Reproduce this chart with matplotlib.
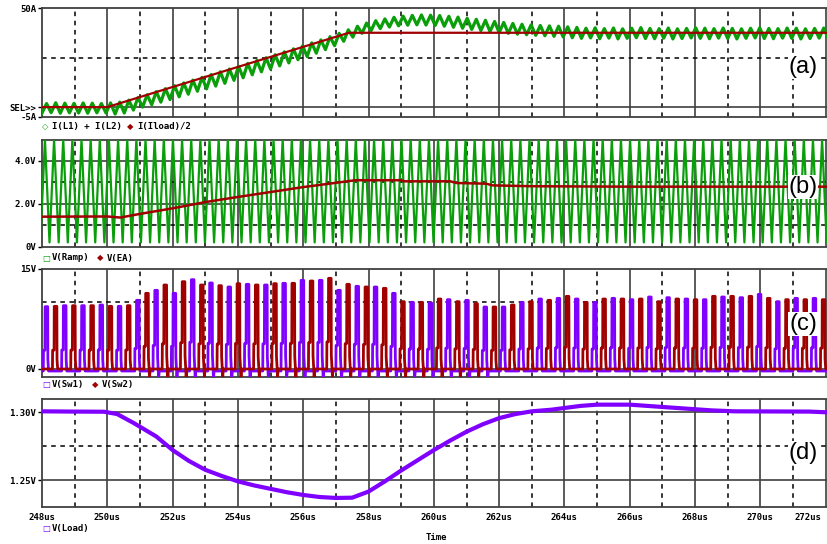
import numpy as np
import matplotlib.pyplot as plt

# ---- time axis (us) ----
t_min, t_max = 248.0, 272.04
x_ticks = list(range(248, 273, 2))
x_labels = ['%dus' % t for t in x_ticks]

# ---- (a) currents ----
# I(Iload)/2 breakpoints
iload_t = [248.0, 250.0, 257.4, 272.1]
iload_v = [0.0, 0.0, 37.5, 37.5]
# I(L1)+I(L2): valley / peak of every ripple cycle (one cycle = 0.28us)
ripple_T = 0.28
il_peak = [1.8, 2.2, 2.0, 1.9, 2.1, 2.0, 1.8, 2.1,
           2.5, 3.5, 4.8, 6.2, 7.8, 9.3, 10.8, 12.2, 13.6, 15.0, 16.4, 17.8,
           19.2, 20.6, 22.0, 23.5, 24.9, 26.4, 27.9, 29.4, 30.9, 32.4, 33.9,
           35.5, 37.2, 39.0, 40.8, 42.4,
           43.6, 44.5, 45.3, 45.9, 46.3, 46.5, 46.4, 46.2, 45.8, 45.4, 44.8,
           44.3, 43.8, 43.2, 42.7, 42.2, 41.8, 41.5, 41.2, 41.0, 40.8, 40.5, 40.2,
           39.8, 40.0, 39.6, 39.9, 39.5, 39.8, 40.1, 39.7, 39.6, 39.9, 39.5,
           39.7, 40.0, 39.8, 39.6, 39.9, 39.7, 39.5, 39.8, 40.0, 39.7, 39.6,
           39.9, 39.8, 39.5, 39.7, 39.9, 39.6]
il_valley = [-3.0, -2.8, -3.1, -2.9, -3.0, -3.1, -2.9, -3.0,
             -3.5, -3.0, -1.5, 0.0, 1.2, 2.5, 3.8, 5.2, 6.5, 8.0, 9.2, 10.6,
             12.0, 13.5, 14.8, 16.3, 17.8, 19.2, 20.8, 22.3, 23.9, 25.5, 27.2,
             29.0, 31.0, 33.2, 35.3, 37.2,
             38.6, 39.6, 40.4, 41.0, 41.3, 41.5, 41.4, 41.2, 40.8, 40.3, 39.8,
             39.2, 38.6, 38.1, 37.6, 37.2, 36.8, 36.5, 36.2, 36.0, 35.7, 35.4, 35.0,
             34.7, 34.9, 34.5, 34.8, 34.4, 34.7, 35.0, 34.6, 34.5, 34.8, 34.4,
             34.6, 34.9, 34.7, 34.5, 34.8, 34.6, 34.4, 34.7, 34.9, 34.6, 34.5,
             34.8, 34.7, 34.4, 34.6, 34.8, 34.5]

# ---- (b) ramp and error amplifier ----
ramp_levels = [0.2, 5.0]   # bottom / top of V(Ramp)
ea_t = [248.0, 250.0, 250.4, 251.0, 252.0, 253.0, 254.0, 255.0, 256.0, 257.0,
        257.6, 259.0, 259.1, 260.5, 260.7, 261.6, 261.8, 263.0, 266.0, 272.1]
ea_v = [1.40, 1.41, 1.36, 1.53, 1.79, 2.08, 2.32, 2.55, 2.78, 2.98,
        3.10, 3.10, 3.05, 3.05, 2.97, 2.94, 2.86, 2.82, 2.80, 2.80]

# ---- (c) switch nodes: peak of each pulse (period 0.56us) ----
sw_T = 0.56
sw1_first, sw2_first = 248.14, 248.42
sw1_peak = [9.35, 9.5, 9.5, 9.6, 9.4, 10.3, 11.8, 11.35, 13.4, 12.9, 12.3,
            12.7, 12.6, 12.85, 13.3, 13.3, 11.8, 12.4, 12.3, 11.35, 10.0, 9.9,
            10.4, 10.3, 9.3, 9.3, 10.0, 10.5, 10.6, 10.5, 10.0, 10.6, 10.4,
            10.8, 10.7, 10.5, 10.4, 10.8, 10.7, 11.2, 10.1, 10.6, 10.6]
sw2_peak = [9.4, 9.5, 9.5, 9.4, 9.5, 11.35, 12.6, 13.1, 12.6, 12.5, 12.8,
            12.6, 12.8, 12.85, 13.2, 13.6, 12.7, 12.3, 12.1, 10.1, 10.0, 10.5,
            10.1, 9.8, 9.3, 9.6, 10.1, 10.3, 10.9, 10.0, 10.5, 10.5, 10.5,
            10.1, 10.5, 10.4, 10.9, 10.9, 10.9, 10.6, 10.4, 10.4, 10.4]
dip_window = [251.2, 261.8]   # pulses followed by a negative (diode) dip

# ---- (d) output voltage ----
vout_t = [248.0, 249.0, 249.9, 250.3, 250.8, 251.5, 252.0, 252.5, 253.0, 253.5,
          254.0, 254.5, 255.0, 255.5, 256.0, 256.5, 257.0, 257.5, 258.0, 258.5,
          259.0, 259.5, 260.0, 260.5, 261.0, 261.5, 262.0, 262.5, 263.0, 263.6,
          264.5, 265.0, 266.0, 267.0, 268.5, 269.2, 271.5, 272.1]
vout_v = [1.3005, 1.3003, 1.3002, 1.2985, 1.2920, 1.2820, 1.2720, 1.2640, 1.2575, 1.2530,
          1.2490, 1.2460, 1.2435, 1.2410, 1.2390, 1.2375, 1.2368, 1.2370, 1.2415, 1.2490,
          1.2570, 1.2645, 1.2720, 1.2790, 1.2855, 1.2910, 1.2955, 1.2985, 1.3005, 1.3017,
          1.3045, 1.3054, 1.3054, 1.3037, 1.3012, 1.3005, 1.3003, 1.2997]

GREEN = '#0a9e0a'
RED = '#a00000'
PURPLE = '#7f00ff'
GRID = '#404040'
MONO = 'DejaVu Sans Mono'

W, H = 827, 544
fig = plt.figure(figsize=(W / 100, H / 100), dpi=100)


def add_panel(top, bottom, ylim, solid_y, dashed_y, yticks, ylabels):
    ax = fig.add_axes([42 / W, 1 - bottom / H, 1 - 42 / W, (bottom - top) / H])
    ax.set_xlim(t_min, t_max)
    ax.set_ylim(*ylim)
    for t in range(249, 273, 2):
        ax.axvline(t, color='black', lw=1.1, ls=(0, (3, 3)), zorder=1)
    for t in range(250, 273, 2):
        ax.axvline(t, color=GRID, lw=1.2, zorder=1)
    for y in solid_y:
        ax.axhline(y, color=GRID, lw=1.2, zorder=1)
    for y in dashed_y:
        ax.axhline(y, color='black', lw=1.1, ls=(0, (3, 3)), zorder=1)
    for s in ['left', 'bottom', 'top']:
        ax.spines[s].set_color(GRID)
        ax.spines[s].set_linewidth(1.3)
    ax.spines['right'].set_visible(False)
    ax.set_xticks([])
    ax.set_yticks(yticks)
    ax.set_yticklabels(ylabels, fontsize=6.5, family=MONO, fontweight='bold')
    ax.tick_params(axis='y', length=3, width=1, pad=1, color='black')
    return ax


def legend_row(y, items):
    for x, sym, col, label in items:
        fig.text(x / W, 1 - y / H, sym, color=col, fontsize=6, va='center',
                 family='DejaVu Sans')
        fig.text((x + 10) / W, 1 - y / H, label, fontsize=6.5, va='center',
                 family=MONO, fontweight='bold')


def tag(ax_y, s):
    fig.text(803 / W, 1 - ax_y / H, s, fontsize=17, ha='center', va='center',
             family='Liberation Sans',
             bbox=dict(facecolor='white', edgecolor='none', pad=0.5))


# (a)
ax1 = add_panel(8, 117, (-5, 50), [0], [25], [50, 0, -5], ['50A', 'SEL>>', '-5A'])
ta, ya = [], []
for k in range(len(il_peak)):
    t0 = 248.0 + k * ripple_T
    ta += [t0, t0 + 0.5 * ripple_T]
    ya += [il_valley[k], il_peak[k]]
ax1.plot(ta, ya, color=GREEN, lw=2.3, zorder=3)
ax1.plot(iload_t, iload_v, color=RED, lw=1.6, zorder=4)
legend_row(127, [(42, '\u25c7', GREEN, 'I(L1) + I(L2)'), (127, '\u25c6', RED, 'I(Iload)/2')])
tag(67, '(a)')

# (b)
ax2 = add_panel(139.5, 246.7, (0, 5.0), [2, 4], [1, 3], [4, 2, 0], ['4.0V', '2.0V', '0V'])
tr, yr = [], []
n_ramp = int((t_max - t_min) / ripple_T) + 2
for k in range(n_ramp):
    t0 = 247.95 + k * ripple_T
    tr += [t0, t0 + 0.5 * ripple_T]
    yr += [ramp_levels[0], ramp_levels[1]]
ax2.plot(tr, yr, color=GREEN, lw=1.6, zorder=3)
ax2.plot(ea_t, ea_v, color=RED, lw=1.8, zorder=4)
legend_row(258, [(42, '\u25a1', GREEN, 'V(Ramp)'), (97, '\u25c6', RED, 'V(EA)')])
tag(187, '(b)')

# (c)
ax3 = add_panel(269, 377, (-1.2, 15), [0], [10], [15, 0], ['15V', '0V'])


def pulse_train(first, peaks, base):
    tt, vv = [248.0], [base]
    for k, h in enumerate(peaks):
        tc = first + k * sw_T
        tt += [tc - 0.1, tc - 0.095, tc - 0.05, tc - 0.045, tc + 0.035, tc + 0.04, tc + 0.06]
        vv += [base, 0.3 * h, 0.3 * h, h, h, 0.15 * h, base]
        if dip_window[0] <= tc <= dip_window[1]:
            tt += [tc + 0.07, tc + 0.075, tc + 0.09]
            vv += [-1.2, -1.2, base]
    tt.append(t_max + 0.1)
    vv.append(base)
    return tt, vv


t1, v1 = pulse_train(sw1_first, sw1_peak, -0.3)
t2, v2 = pulse_train(sw2_first, sw2_peak, 0.0)
ax3.plot(t1, v1, color=PURPLE, lw=2.0, zorder=3)
ax3.plot(t2, v2, color=RED, lw=2.0, zorder=4)
legend_row(385, [(42, '\u25a1', PURPLE, 'V(Sw1)'), (92, '\u25c6', RED, 'V(Sw2)')])
tag(324, '(c)')

# (d)
ax4 = add_panel(399, 507, (1.23015, 1.30956), [1.25, 1.30], [1.275],
                [1.30, 1.25], ['1.30V', '1.25V'])
ax4.plot(vout_t, vout_v, color=PURPLE, lw=3.0, zorder=3)
for t, lab in zip(x_ticks, x_labels):
    xp = min(42 + (t - 248) * 32.65, 808)
    fig.text(xp / W, 1 - 517 / H, lab, fontsize=6.5,
             family=MONO, fontweight='bold', ha='center', va='center')
legend_row(528, [(42, '\u25a1', PURPLE, 'V(Load)')])
fig.text(436 / W, 1 - 538 / H, 'Time', fontsize=6.5, family=MONO,
         fontweight='bold', ha='center', va='center')
tag(453, '(d)')

fig.savefig('out.png', dpi=100)
